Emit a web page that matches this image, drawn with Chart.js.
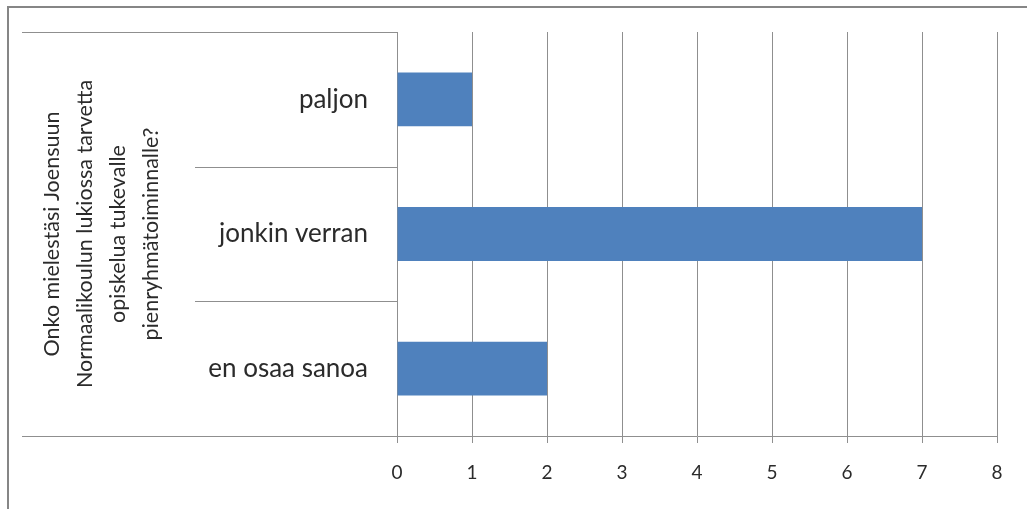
<!DOCTYPE html>
<html>
<head>
<meta charset="utf-8">
<script src="https://cdn.jsdelivr.net/npm/chart.js@4/dist/chart.umd.min.js"></script>
<style>
  html, body { margin: 0; padding: 0; background: #fff; }
  #wrap { position: relative; width: 1027px; height: 509px; }
</style>
</head>
<body>
<div id="wrap"><canvas id="myBarChart" width="1027" height="509"></canvas></div>
<script>
// data
var categories = ['paljon', 'jonkin verran', 'en osaa sanoa'];
var answers = [1, 7, 2];
var xTicks = [0, 1, 2, 3, 4, 5, 6, 7, 8];
var yTitle = ['Onko mielestäsi Joensuun', 'Normaalikoulun lukiossa tarvetta', 'opiskelua tukevalle', 'pienryhmätoiminnalle?'];

var lineColor = '#8f8f8f';
var textColor = '#2b2b2b';

// frame, left box lines and category separators (Excel style)
var boxLines = {
    id: 'boxLines',
    beforeDraw: function(chart) {
        var ctx = chart.ctx;
        var area = chart.chartArea;
        var y = chart.scales.y;
        ctx.save();
        // outer frame
        ctx.strokeStyle = '#868686';
        ctx.lineWidth = 2;
        ctx.beginPath();
        ctx.moveTo(8, 520);
        ctx.lineTo(8, 7);
        ctx.lineTo(1040, 7);
        ctx.stroke();

        ctx.strokeStyle = lineColor;
        ctx.lineWidth = 1;
        ctx.beginPath();
        ctx.moveTo(22, area.top + 0.5);
        ctx.lineTo(area.left, area.top + 0.5);
        ctx.moveTo(22, area.bottom + 0.5);
        ctx.lineTo(area.left, area.bottom + 0.5);
        // separators between categories
        for (var i = 0; i < categories.length - 1; i++) {
            var p = Math.round((y.getPixelForTick(i) + y.getPixelForTick(i + 1)) / 2) + 0.5;
            ctx.moveTo(195, p);
            ctx.lineTo(area.left, p);
        }
        ctx.stroke();
        ctx.restore();
    }
};

var bar = document.getElementById('myBarChart').getContext('2d');
var myBarChart = new Chart(bar, {
    type: 'bar',
    data: {
        labels: categories,
        datasets: [{
            label: '',
            data: answers,
            backgroundColor: '#4f81bd',
            borderWidth: 0,
            barPercentage: 0.4,
            categoryPercentage: 1.0
        }]
    },
    options: {
        indexAxis: 'y',
        responsive: false,
        animation: false,
        layout: { padding: { top: 32, right: 30, left: 0, bottom: 0 } },
        scales: {
            x: {
                min: 0,
                max: 8,
                afterBuildTicks: function(scale) {
                    scale.ticks = xTicks.map(function(v) { return { value: v }; });
                },
                afterFit: function(scale) {
                    scale.height = 73;
                    scale.paddingLeft = 0;
                    scale.paddingRight = 0;
                },
                ticks: {
                    color: textColor,
                    padding: 18,
                    font: { family: 'Lato', size: 19 },
                    maxRotation: 0
                },
                grid: {
                    color: lineColor,
                    lineWidth: 1,
                    tickLength: 7
                },
                border: { color: lineColor, width: 1 }
            },
            y: {
                afterFit: function(scale) {
                    scale.width = 397;
                    scale.paddingTop = 0;
                    scale.paddingBottom = 0;
                },
                ticks: {
                    color: textColor,
                    padding: 29,
                    font: { family: 'Lato', size: 26 }
                },
                grid: {
                    display: false,
                    drawTicks: false,
                    tickLength: 0
                },
                border: { color: lineColor, width: 1 },
                title: {
                    display: true,
                    text: yTitle,
                    color: textColor,
                    font: { family: 'Lato', size: 21.5, lineHeight: '33px' },
                    padding: { top: 36, bottom: 0 }
                }
            }
        },
        plugins: {
            legend: { display: false },
            title: { display: false },
            tooltip: { enabled: false }
        }
    },
    plugins: [boxLines]
});
</script>
</body>
</html>
